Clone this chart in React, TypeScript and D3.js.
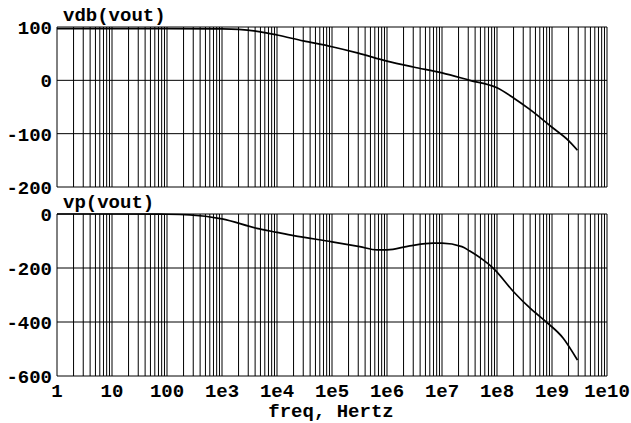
import * as d3 from "d3";
import React from "react";

// frequency decades and their labels
const decades = [1, 10, 100, 1e3, 1e4, 1e5, 1e6, 1e7, 1e8, 1e9, 1e10];
const decadeLabels = ["1", "10", "100", "1e3", "1e4", "1e5", "1e6", "1e7", "1e8", "1e9", "1e10"];

// magnitude (dB)
const magFreq = [1, 10, 100, 1e3, 2e3, 5e3, 1e4, 3e4, 1e5, 3e5, 1e6, 3e6, 1e7, 3.2e7, 1e8, 2e8, 4e8, 1e9, 2e9, 2.9e9];
const magDb = [97, 97, 97, 96.5, 95.5, 91, 85, 74, 63, 51, 36, 25, 14, 0, -14, -33, -55, -88, -113, -131];

// phase (degrees)
const phFreq = [1, 10, 100, 260, 1e3, 4.3e3, 1e4, 2e4, 1e5, 3.2e5, 6.6e5, 1e6, 2.6e6, 6.9e6, 1e7, 2.3e7, 3.2e7, 5.6e7, 8.6e7, 2e8, 4e8, 8e8, 1.6e9, 2.9e9];
const phDeg = [0, 0, -1, -3, -18, -53, -68, -80, -103, -121, -133, -133, -118, -108, -108, -121, -137, -170, -201, -288, -349, -401, -460, -541];

const magTicks = [100, 0, -100, -200];
const phTicks = [0, -200, -400, -600];

const FONT = "'Liberation Mono', 'DejaVu Sans Mono', monospace";

const x = d3.scaleLog().domain([1, 1e10]).range([57, 607]);

// all 1..9 x decade gridlines
const minorGrid: number[] = [];
for (let d = 0; d < 10; d++) {
  for (let m = 1; m <= 9; m++) minorGrid.push(m * Math.pow(10, d));
}
minorGrid.push(1e10);

const Panel = ({ title, ticks, yDomain, yRange, fx, fy }: any) => {
  const y = d3.scaleLinear().domain(yDomain).range(yRange);
  const pts = fx.map((f: number, i: number) => [f, fy[i]]);
  const line = d3
    .line<any>()
    .x((d) => x(d[0]))
    .y((d) => y(d[1]))
    .curve(d3.curveMonotoneX);
  return (
    <g>
      {minorGrid.map((f, i) => (
        <line key={i} x1={x(f)} x2={x(f)} y1={y(yDomain[0])} y2={y(yDomain[1])} stroke="#000" strokeWidth={1} />
      ))}
      {ticks.map((t: number) => (
        <g key={t}>
          <line x1={57} x2={607} y1={y(t)} y2={y(t)} stroke="#000" strokeWidth={1} />
          <text x={52} y={y(t)} dy="0.36em" textAnchor="end" fontFamily={FONT} fontWeight="bold" fontSize={19}>
            {String(t)}
          </text>
        </g>
      ))}
      <path d={line(pts) || ""} fill="none" stroke="#000" strokeWidth={1.7} />
      <text x={63} y={y(yDomain[1]) - 6} fontFamily={FONT} fontWeight="bold" fontSize={19}>
        {title}
      </text>
    </g>
  );
};

export default function App() {
  return (
    <svg width={631} height={423} style={{ position: "absolute", left: 0, top: 0, background: "#fff" }}>
      <rect width={631} height={423} fill="#fff" />
      <Panel title="vdb(vout)" ticks={magTicks} yDomain={[-200, 100]} yRange={[187, 27]} fx={magFreq} fy={magDb} />
      <Panel title="vp(vout)" ticks={phTicks} yDomain={[-600, 0]} yRange={[376, 214]} fx={phFreq} fy={phDeg} />
      {decades.map((f, i) => (
        <text key={i} x={x(f)} y={397} textAnchor="middle" fontFamily={FONT} fontWeight="bold" fontSize={19}>
          {decadeLabels[i]}
        </text>
      ))}
      <text x={331} y={417} textAnchor="middle" fontFamily={FONT} fontWeight="bold" fontSize={19}>
        freq, Hertz
      </text>
    </svg>
  );
}
